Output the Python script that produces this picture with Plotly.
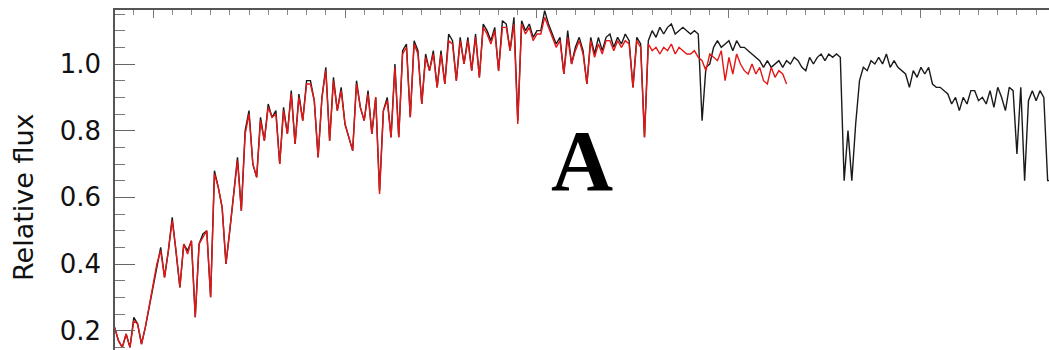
import numpy as np
import plotly.graph_objects as go

# Wavelength grid (Angstrom), 20 A sampling
wavelength = np.arange(3800, 8700, 20)

# Black spectrum (relative flux)
flux_black = [
    0.21, 0.17, 0.15, 0.19, 0.15, 0.24, 0.22, 0.16, 0.21, 0.27,
    0.33, 0.40, 0.45, 0.36, 0.44, 0.54, 0.44, 0.33, 0.46, 0.44,
    0.47, 0.24, 0.46, 0.49, 0.50, 0.30, 0.68, 0.63, 0.57, 0.40,
    0.50, 0.62, 0.72, 0.56, 0.80, 0.86, 0.70, 0.66, 0.84, 0.77,
    0.88, 0.84, 0.86, 0.70, 0.87, 0.79, 0.92, 0.76, 0.91, 0.83,
    0.95, 0.95, 0.89, 0.72, 0.90, 0.99, 0.77, 0.96, 0.86, 0.93,
    0.82, 0.78, 0.74, 0.95, 0.87, 0.83, 0.92, 0.79, 0.90, 0.62,
    0.86, 0.90, 0.78, 1.00, 0.78, 1.04, 1.06, 0.84, 1.07, 1.04,
    0.88, 1.03, 0.98, 1.04, 0.93, 1.04, 0.94, 1.09, 1.07, 0.95,
    1.08, 1.00, 1.08, 0.98, 1.09, 0.96, 1.12, 1.10, 1.07, 1.11,
    0.98, 1.13, 1.12, 1.04, 1.14, 0.83, 1.13, 1.10, 1.12, 1.08,
    1.10, 1.10, 1.16, 1.12, 1.09, 1.06, 1.08, 0.97, 1.10, 1.00,
    1.05, 1.08, 1.04, 0.94, 1.08, 1.03, 1.08, 1.04, 1.08, 1.09,
    1.05, 1.08, 1.06, 1.09, 1.07, 0.93, 1.08, 1.06, 0.78, 1.07,
    1.10, 1.08, 1.11, 1.09, 1.11, 1.12, 1.09, 1.10, 1.11, 1.10,
    1.09, 1.10, 1.09, 0.83, 0.99, 1.00, 1.05, 1.07, 1.05, 1.06,
    1.07, 1.04, 1.07, 1.05, 1.05, 1.04, 1.03, 1.02, 1.01, 0.99,
    1.01, 0.99, 1.00, 1.01, 0.99, 1.01, 1.00, 1.02, 1.01, 0.99,
    0.98, 1.02, 1.00, 1.02, 1.03, 1.01, 1.03, 1.02, 1.03, 1.02,
    0.65, 0.80, 0.65, 0.82, 0.95, 0.99, 0.98, 1.01, 1.00, 1.02,
    1.00, 1.03, 0.99, 1.01, 0.99, 0.98, 0.97, 0.93, 0.98, 0.96,
    0.99, 0.97, 0.99, 0.94, 0.93, 0.93, 0.92, 0.91, 0.88, 0.90,
    0.86, 0.90, 0.88, 0.92, 0.92, 0.89, 0.90, 0.88, 0.92, 0.87,
    0.93, 0.90, 0.86, 0.93, 0.92, 0.73, 0.93, 0.65, 0.89, 0.92,
    0.89, 0.92, 0.90, 0.65, 0.65,
]

# Red spectrum (relative flux)
flux_red = [
    0.21, 0.17, 0.15, 0.19, 0.15, 0.23, 0.22, 0.16, 0.21, 0.27,
    0.33, 0.40, 0.44, 0.36, 0.44, 0.53, 0.44, 0.33, 0.46, 0.43,
    0.47, 0.24, 0.46, 0.48, 0.50, 0.30, 0.67, 0.63, 0.57, 0.40,
    0.50, 0.61, 0.71, 0.56, 0.79, 0.85, 0.70, 0.66, 0.83, 0.77,
    0.87, 0.84, 0.85, 0.70, 0.86, 0.79, 0.91, 0.76, 0.90, 0.83,
    0.94, 0.94, 0.89, 0.72, 0.90, 0.98, 0.77, 0.95, 0.86, 0.92,
    0.82, 0.78, 0.74, 0.94, 0.87, 0.83, 0.91, 0.79, 0.90, 0.61,
    0.86, 0.89, 0.78, 0.99, 0.78, 1.03, 1.05, 0.84, 1.06, 1.03,
    0.88, 1.02, 0.98, 1.03, 0.93, 1.03, 0.94, 1.07, 1.06, 0.95,
    1.07, 1.00, 1.07, 0.98, 1.08, 0.96, 1.11, 1.09, 1.06, 1.10,
    0.98, 1.11, 1.11, 1.04, 1.12, 0.82, 1.12, 1.09, 1.11, 1.07,
    1.09, 1.09, 1.14, 1.11, 1.08, 1.05, 1.07, 0.97, 1.08, 1.00,
    1.04, 1.07, 1.03, 0.94, 1.07, 1.02, 1.06, 1.03, 1.07, 1.07,
    1.04, 1.07, 1.05, 1.07, 1.06, 0.93, 1.07, 1.05, 0.78, 1.06,
    1.04, 1.05, 1.03, 1.05, 1.04, 1.06, 1.03, 1.05, 1.04, 1.03,
    1.03, 1.04, 1.02, 1.01, 0.98, 1.03, 1.02, 1.01, 1.04, 0.95,
    1.02, 0.97, 1.03, 1.00, 0.98, 0.97, 1.00, 0.97, 0.99, 0.95,
    0.94, 0.99, 0.96, 0.98, 0.97, 0.94,
]

y_tick_vals = [0.2, 0.4, 0.6, 0.8, 1.0]
y_tick_text = ["0.2", "0.4", "0.6", "0.8", "1.0"]

fig = go.Figure()
fig.add_trace(go.Scatter(
    x=wavelength, y=flux_black, mode="lines",
    line=dict(color="#1a1a1a", width=1.4), showlegend=False,
))
fig.add_trace(go.Scatter(
    x=wavelength[:len(flux_red)], y=flux_red, mode="lines",
    line=dict(color="rgb(228,22,22)", width=1.4), showlegend=False,
))

fig.update_layout(
    width=1049, height=350,
    margin=dict(l=115, r=0, t=10, b=0),
    paper_bgcolor="white", plot_bgcolor="white",
    xaxis=dict(
        range=[3802, 8667], side="top",
        showline=True, linecolor="#555555", linewidth=1.5,
        showgrid=False, zeroline=False,
        ticks="inside", ticklen=8, tickcolor="#777777", tickwidth=1,
        tick0=0, dtick=1000, showticklabels=False,
        minor=dict(ticks="inside", ticklen=5, dtick=100, tick0=0,
                   tickcolor="#888888", showgrid=False),
    ),
    yaxis=dict(
        range=[0.142, 1.162],
        showline=True, linecolor="#555555", linewidth=1.5,
        showgrid=False, zeroline=False,
        ticks="inside", ticklen=20, tickcolor="#666666", tickwidth=1,
        tickvals=y_tick_vals, ticktext=y_tick_text,
        tickfont=dict(family="DejaVu Sans", size=26, color="#111111"),
        ticklabelstandoff=7,
        minor=dict(ticks="inside", ticklen=10, dtick=0.05, tick0=0,
                   tickcolor="#777777", showgrid=False),
    ),
    annotations=[
        dict(text="Relative flux", xref="paper", yref="paper",
             x=-0.0985, y=0.45, xanchor="center", yanchor="middle",
             textangle=-90, showarrow=False,
             font=dict(family="DejaVu Sans", size=27, color="#111111")),
        dict(text="<b>A</b>", xref="paper", yref="paper",
             x=0.5, y=0.556, xanchor="center", yanchor="middle",
             showarrow=False,
             font=dict(family="Liberation Serif", size=86, color="black")),
    ],
)

fig.write_html("out.html")
